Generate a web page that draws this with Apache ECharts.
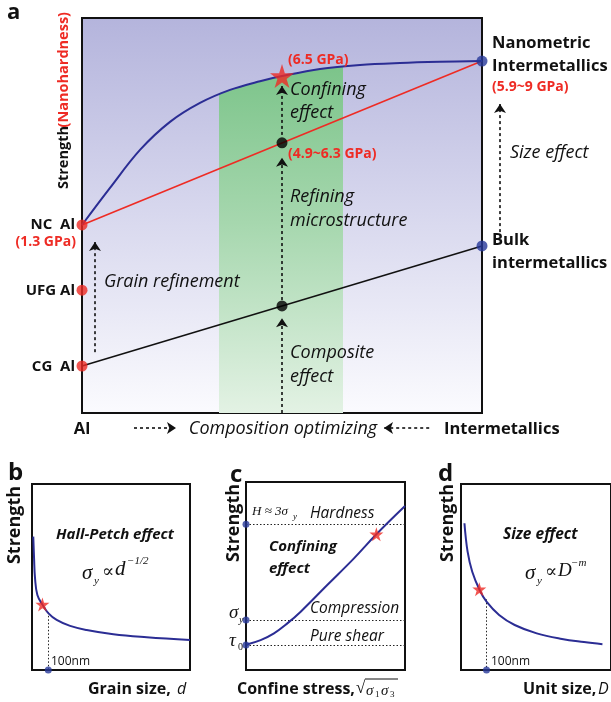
<!DOCTYPE html>
<html><head><meta charset="utf-8">
<script src="https://cdn.jsdelivr.net/npm/echarts@6/dist/echarts.min.js"></script>
<style>html,body{margin:0;padding:0;background:#fff}#c{width:611px;height:702px}</style>
</head><body><div id="c"></div>
<script>
// ---------- Panel a data (x: composition 0=Al .. 100=Intermetallics; y: strength, arbitrary) ----------
const aBlueCurve = [[0,47.6],[7,57],[14.5,66.6],[22,73.7],[29.5,78.5],[37,81.8],[44.5,84],[50,85.3],[59.5,87.1],[69.5,88.1],[79.5,88.6],[89.5,88.9],[100,89.1]];
const aGreenBandTop = [[34.25,81],[37,81.8],[44.5,84],[50,85.3],[59.5,87.1],[65.25,87.7]];
const aRedLine = [[0,47.6],[100,89.1]];
const aBlackLine = [[0,11.9],[100,42.3]];
const aAlPoints = [[0,47.6],[0,31.1],[0,11.9]];          // NC Al, UFG Al, CG Al
const aIntermetallicPoints = [[100,89.1],[100,42.3]];     // Nanometric, Bulk
const aMidPoints = [[50,68.4],[50,27.1]];
const aStar = [[50,85.3]];
const aArrows = [
  [[50,0],[50,24]],
  [[50,28.6],[50,64.6]],
  [[50,70.4],[50,82.8]],
  [[3.25,15.4],[3.25,43.3]],
  [[104.5,45.8],[104.5,78.2]]
];
const aCompArrows = [[[13,-3.8],[23.5,-3.8]],[[86.8,-3.8],[75.5,-3.8]]];

// ---------- Panel b (Hall-Petch) ----------
const bCurve = [[0.8,71.7],[1.3,60.2],[1.9,49.5],[3.4,40.3],[6.8,34.9],[10.3,30.6],[15.6,26.9],[24.1,23.7],[34.6,21.5],[51.5,19.2],[72.6,17.6],[100,16.1]];
const bStar = [[6.6,35.2]];
const bMarkerX = 10.3, bMarkerTop = 31;

// ---------- Panel c (confining) ----------
const cCurve = [[0.5,13.6],[9.2,15.9],[17.6,19.5],[26,24.8],[34.4,31],[51.1,45.2],[67.9,59.4],[82,72.2],[100,87.2]];
const cLevels = [77.5, 26.6, 13.3];   // Hardness, Compression, Pure shear
const cStar = [[82,72.2]];

// ---------- Panel d (size effect) ----------
const dCurve = [[2.3,78.9],[4.4,63.6],[7.5,52.8],[12.4,43],[17,36.7],[25.4,29.6],[35.8,24.2],[50.5,19.7],[67.3,16.7],[82,15],[94.3,13.8]];
const dStar = [[12.2,43.4]];
const dMarkerX = 17, dMarkerTop = 38;

const BLUE = '#2b2d94', RED = '#ee2b24', DOTBLUE = '#27389a';
const STAR = 'path://M50,0L61.8,36.2L100,36.2L69.1,58.8L80.9,95.1L50,72.6L19.1,95.1L30.9,58.8L0,36.2L38.2,36.2Z';
const SANS = '"Open Sans", "DejaVu Sans", sans-serif';
const SERIF = '"Liberation Serif", "DejaVu Serif", serif';

const chart = echarts.init(document.getElementById('c'), null, {renderer:'canvas'});

function axis(i){ return {gridIndex:i, type:'value', min:0, max:100, show:false}; }
function lineS(gi, data, color, width, extra){
  return Object.assign({type:'line', xAxisIndex:gi, yAxisIndex:gi, data:data, symbol:'none',
    lineStyle:{color:color, width:width}, silent:true, animation:false, clip:false}, extra||{});
}
function dots(gi, data, color, size, symbol){
  return {type:'scatter', xAxisIndex:gi, yAxisIndex:gi, data:data, symbol:symbol||'circle', symbolSize:size,
    itemStyle:{color:color}, silent:true, animation:false, clip:false, z:5};
}
function dashArrows(gi, segs, size){
  return {type:'lines', coordinateSystem:'cartesian2d', xAxisIndex:gi, yAxisIndex:gi,
    data: segs.map(s => ({coords:s})), symbol:['none','arrow'], symbolSize:size||9,
    lineStyle:{color:'#111', width:1.6, type:[3,3], opacity:1}, silent:true, animation:false, clip:false, z:4};
}
function guide(gi, segs){
  return {type:'lines', coordinateSystem:'cartesian2d', xAxisIndex:gi, yAxisIndex:gi,
    data: segs.map(s => ({coords:s})), symbol:'none',
    lineStyle:{color:'#222', width:1, type:[1.5,2], opacity:1}, silent:true, animation:false, clip:false, z:3};
}

function T(x, y, text, o){
  o = o || {};
  const size = o.size || 14;
  const font = (o.italic ? 'italic ' : '') + (o.bold ? 'bold ' : '') + size + 'px ' + (o.family || SANS);
  return {type:'text', x:x, y:y, rotation:o.rot||0, z:100, silent:true,
    style:{text:text, font:font, fill:o.color||'#111',
      align:o.align||'left', textAlign:o.align||'left',
      verticalAlign:'middle', textVerticalAlign:'middle'}};
}

const graphics = [
  // panel a
  T(7, 13, 'a', {bold:true, size:22}),
  T(64, 189, 'Strength', {bold:true, size:14.5, rot:Math.PI/2}),
  T(64, 12, '(Nanohardness)', {bold:true, size:14.5, rot:Math.PI/2, color:RED, align:'right'}),
  T(75, 225, 'NC  Al', {bold:true, size:15, align:'right'}),
  T(76, 242, '(1.3 GPa)', {bold:true, size:14, align:'right', color:RED}),
  T(75, 291, 'UFG Al', {bold:true, size:15, align:'right'}),
  T(75, 367, 'CG  Al', {bold:true, size:15, align:'right'}),
  T(288, 60, '(6.5 GPa)', {bold:true, size:14, color:RED}),
  T(290, 90, 'Confining', {italic:true, size:18}),
  T(290, 113, 'effect', {italic:true, size:18}),
  T(288, 154, '(4.9~6.3 GPa)', {bold:true, size:14, color:RED}),
  T(290, 197, 'Refining', {italic:true, size:18}),
  T(290, 221, 'microstructure', {italic:true, size:18}),
  T(104, 282, 'Grain refinement', {italic:true, size:18}),
  T(290, 353, 'Composite', {italic:true, size:18}),
  T(290, 377, 'effect', {italic:true, size:18}),
  T(492, 43, 'Nanometric', {bold:true, size:16.5}),
  T(492, 66, 'Intermetallics', {bold:true, size:16.5}),
  T(492, 87, '(5.9~9 GPa)', {bold:true, size:14, color:RED}),
  T(510, 153, 'Size effect', {italic:true, size:18}),
  T(492, 240, 'Bulk', {bold:true, size:16.5}),
  T(492, 263, 'intermetallics', {bold:true, size:16.5}),
  T(82, 429, 'Al', {bold:true, size:16.5, align:'center'}),
  T(283, 429, 'Composition optimizing', {italic:true, size:18, align:'center'}),
  T(444, 429, 'Intermetallics', {bold:true, size:16.5}),
  // panel b
  T(8, 473, 'b', {bold:true, size:24}),
  T(15, 525, 'Strength', {bold:true, size:18, rot:Math.PI/2, align:'center'}),
  T(115, 535, 'Hall-Petch effect', {bold:true, italic:true, size:15, align:'center'}),
  T(82, 573, 'σ', {italic:true, size:21, family:SERIF}),
  T(94, 581, 'y', {italic:true, size:11, family:SERIF}),
  T(102, 572, '∝', {size:18, family:SERIF}),
  T(115, 569, 'd', {italic:true, size:21, family:SERIF}),
  T(127, 561, '−1/2', {italic:true, size:11, family:SERIF}),
  T(51, 662, '100nm', {size:12}),
  T(88, 689, 'Grain size,', {bold:true, size:16}),
  T(177, 689, 'd', {italic:true, size:16}),
  // panel c
  T(230, 475, 'c', {bold:true, size:24}),
  T(234, 523, 'Strength', {bold:true, size:18, rot:Math.PI/2, align:'center'}),
  T(252, 512, 'H ≈ 3σ', {italic:true, size:13, family:SERIF}),
  T(293, 517, 'y', {italic:true, size:9, family:SERIF}),
  T(310, 514, 'Hardness', {italic:true, size:15.5}),
  T(269, 547, 'Confining', {bold:true, italic:true, size:15}),
  T(269, 569, 'effect', {bold:true, italic:true, size:15}),
  T(310, 609, 'Compression', {italic:true, size:15.5}),
  T(310, 637, 'Pure shear', {italic:true, size:15.5}),
  T(229, 613, 'σ', {italic:true, size:19, family:SERIF}),
  T(239, 620, 'y', {italic:true, size:10, family:SERIF}),
  T(229, 641, 'τ', {italic:true, size:19, family:SERIF}),
  T(238, 647, '0', {size:10, family:SERIF}),
  T(237, 689, 'Confine stress,', {bold:true, size:16}),
  T(356, 689, '√', {size:17, family:SERIF}),
  T(366, 691, 'σ', {italic:true, size:15, family:SERIF}),
  T(375, 695, '1', {size:9, family:SERIF}),
  T(381, 691, 'σ', {italic:true, size:15, family:SERIF}),
  T(390, 695, '3', {size:9, family:SERIF}),
  {type:'line', z:100, silent:true, shape:{x1:365, y1:679, x2:398, y2:679}, style:{stroke:'#111', lineWidth:1}},
  // panel d
  T(438, 474, 'd', {bold:true, size:24}),
  T(448, 523, 'Strength', {bold:true, size:18, rot:Math.PI/2, align:'center'}),
  T(503, 535, 'Size effect', {bold:true, italic:true, size:15.5}),
  T(525, 573, 'σ', {italic:true, size:21, family:SERIF}),
  T(537, 581, 'y', {italic:true, size:11, family:SERIF}),
  T(545, 572, '∝', {size:18, family:SERIF}),
  T(558, 571, 'D', {italic:true, size:19, family:SERIF}),
  T(571, 563, '−m', {italic:true, size:11, family:SERIF}),
  T(491, 662, '100nm', {size:12}),
  T(523, 689, 'Unit size,', {bold:true, size:16}),
  T(598, 689, 'D', {italic:true, size:16})
];

const option = {
  animation:false,
  backgroundColor:'#fff',
  grid:[
    {left:82, top:18, width:400, height:395, show:true, borderColor:'#111', borderWidth:2,
     backgroundColor:{type:'linear', x:0, y:0, x2:0, y2:1, colorStops:[
       {offset:0, color:'#b4b4dc'},{offset:0.5, color:'#d8d8ee'},{offset:1, color:'#fbfbfe'}]}},
    {left:32, top:484, width:158, height:186, show:true, borderColor:'#111', borderWidth:2, backgroundColor:'#fff'},
    {left:246, top:482, width:159, height:188, show:true, borderColor:'#111', borderWidth:2, backgroundColor:'#fff'},
    {left:461, top:484, width:159, height:186, show:true, borderColor:'#111', borderWidth:2, backgroundColor:'#fff'}
  ],
  xAxis:[axis(0),axis(1),axis(2),axis(3)],
  yAxis:[axis(0),axis(1),axis(2),axis(3)],
  series:[
    // panel a
    lineS(0, aGreenBandTop, 'rgba(0,0,0,0)', 0, {smooth:0.35, z:1,
      areaStyle:{opacity:1, color:{type:'linear', x:0, y:0, x2:0, y2:1, colorStops:[
        {offset:0, color:'#7cc48a'},{offset:0.45, color:'#a6d7ae'},{offset:1, color:'#e3f2e4'}]}}}),
    lineS(0, aRedLine, RED, 1.6, {z:2}),
    lineS(0, aBlackLine, '#111', 1.6, {z:2}),
    lineS(0, aBlueCurve, BLUE, 2, {smooth:0.35, z:3}),
    dashArrows(0, aArrows, 9),
    dashArrows(0, aCompArrows, 9),
    dots(0, aAlPoints, RED, 11),
    dots(0, aIntermetallicPoints, DOTBLUE, 11),
    dots(0, aMidPoints, '#000', 11),
    dots(0, aStar, RED, 24, STAR),
    // panel b
    lineS(1, bCurve, BLUE, 2, {smooth:0.4, z:3}),
    guide(1, [[[bMarkerX,bMarkerTop],[bMarkerX,0]]]),
    dots(1, bStar, RED, 14, STAR),
    dots(1, [[bMarkerX,0]], DOTBLUE, 7),
    // panel c
    guide(2, cLevels.map(v => [[0,v],[100,v]])),
    lineS(2, cCurve, BLUE, 2, {smooth:0.4, z:3}),
    dots(2, cStar, RED, 14, STAR),
    dots(2, cLevels.map(v => [0,v]), DOTBLUE, 7),
    // panel d
    lineS(3, dCurve, BLUE, 2, {smooth:0.4, z:3}),
    guide(3, [[[dMarkerX,dMarkerTop],[dMarkerX,0]]]),
    dots(3, dStar, RED, 14, STAR),
    dots(3, [[dMarkerX,0]], DOTBLUE, 7)
  ],
  graphic: graphics
};
chart.setOption(option);
</script></body></html>
